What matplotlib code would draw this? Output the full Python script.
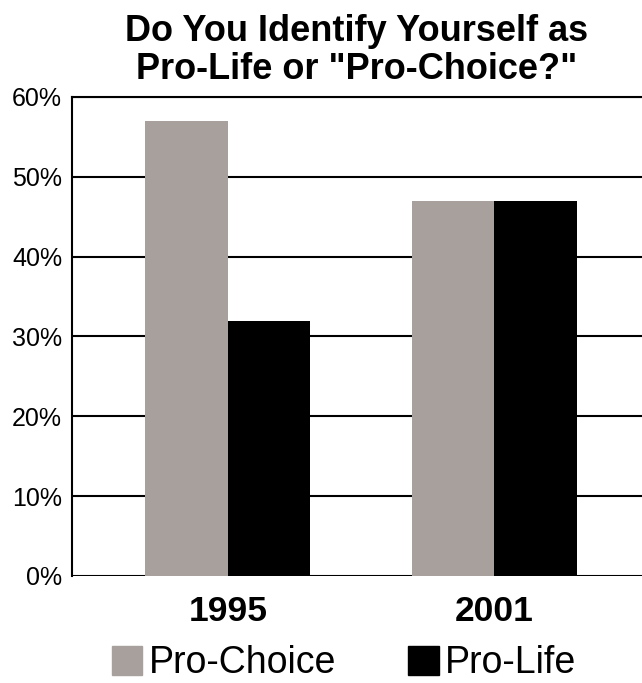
import numpy as np
import matplotlib.pyplot as plt
from matplotlib.patches import Patch

years = ['1995', '2001']
pro_choice = [57, 47]
pro_life = [32, 47]
yticks = [0, 10, 20, 30, 40, 50, 60]

gray = '#a8a09c'
plt.rcParams['font.family'] = ['Liberation Sans', 'DejaVu Sans']

fig = plt.figure(figsize=(6.42, 6.83), dpi=100)
ax = fig.add_axes([0.1121, 0.1567, 0.8879, 0.7013])

x = np.arange(len(years))
w = 0.31
ax.bar(x - w/2, pro_choice, w, color=gray, zorder=3)
ax.bar(x + w/2, pro_life, w, color='black', zorder=3)

ax.set_ylim(0, 60)
ax.set_xlim(-0.586, 1.556)
ax.set_yticks(yticks)
ax.set_yticklabels([f'{t}%' for t in yticks], fontsize=18)
ax.set_xticks(x)
ax.set_xticklabels(years, fontsize=25.5, fontweight='bold')
ax.tick_params(axis='y', length=0, pad=7)
ax.tick_params(axis='x', length=0, pad=14)
ax.yaxis.grid(True, color='black', linewidth=1.5, zorder=0)
for s in ['right', 'bottom']:
    ax.spines[s].set_visible(False)
ax.spines['left'].set_linewidth(1.5)
ax.spines['top'].set_linewidth(1.5)

ax.set_title('Do You Identify Yourself as\nPro-Life or "Pro-Choice?"',
             fontsize=26, fontweight='bold', pad=13, linespacing=1.1)

handles = [Patch(color=gray, label='Pro-Choice'), Patch(color='black', label='Pro-Life')]
fig.legend(handles=handles, loc='center', bbox_to_anchor=(0.536, 0.029), ncol=2,
           frameon=False, fontsize=27, handlelength=0.82, handleheight=0.82,
           handletextpad=0.18, columnspacing=1.9, borderpad=0)

fig.savefig('out.png', dpi=100)
